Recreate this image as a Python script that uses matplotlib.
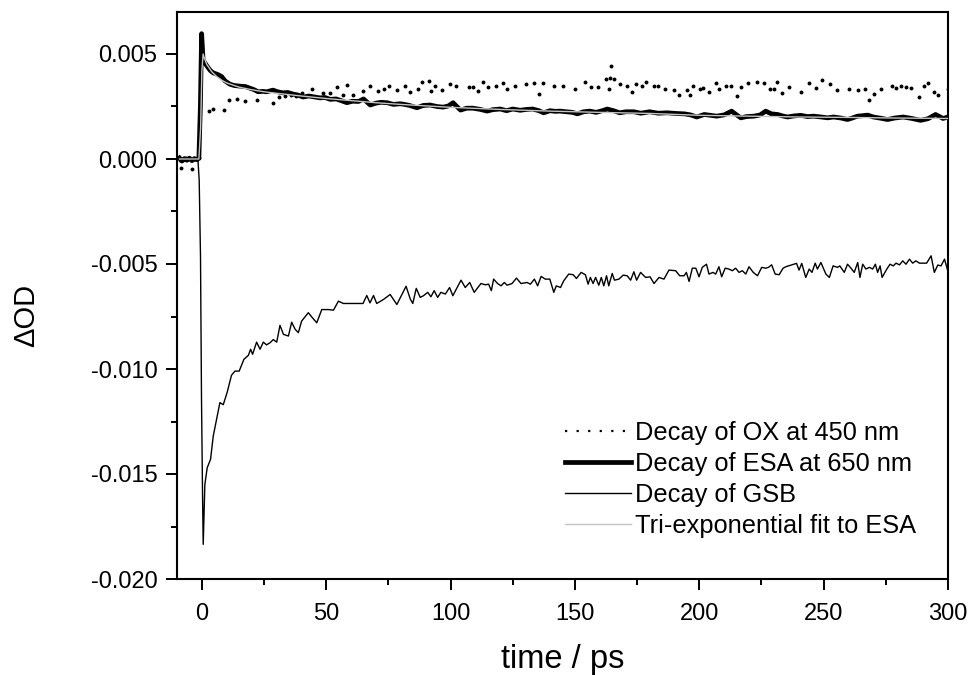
import numpy as np
import matplotlib
matplotlib.use('Agg')
import matplotlib.pyplot as plt
from matplotlib.lines import Line2D
from matplotlib.ticker import MultipleLocator, FormatStrFormatter

plt.rcParams['font.family'] = ['Liberation Sans', 'DejaVu Sans']
plt.rcParams['axes.unicode_minus'] = False

# values, delta OD in units of 1e-3
# oxidised species at 450 nm (dotted)
ox_t = [-8.9, -8.2, -6.5, -4.1, -2.5, -1.0,
        2.9, 4.6, 8.9, 11.0, 14.0, 17.3, 22.0, 28.7, 31.0, 33.5, 36.0, 38.0, 40.1, 44.2,
        48.9, 51.5, 54.2, 56.9, 58.3, 60.7, 64.7, 67.4, 71.0, 73.3, 75.3, 78.4,
        81.8, 83.8, 87.1, 88.5, 91.2, 92.1, 93.6, 96.5, 99.9, 102.3,
        107.3, 109.0, 111.0, 113.0, 114.9, 118.3, 121.1, 122.7, 125.8, 130.5,
        133.4, 135.4, 137.2, 141.5, 145.3, 150.2, 154.2, 156.3, 159.2, 162.6,
        163.6, 164.0, 164.6, 165.7, 168.3, 171.0, 173.0, 174.7, 177.1, 178.7,
        181.8, 183.4, 186.2, 189.8, 191.8, 194.9, 196.3, 197.5, 200.2, 201.5,
        203.9, 206.6, 207.9,
        210.6, 212.9, 215.0, 216.7, 219.4, 223.1, 226.1, 228.5, 230.1, 231.4,
        233.2, 236.1, 240.8, 244.2, 246.9, 249.3, 252.6, 255.3, 260.0, 263.9,
        266.6, 268.3, 270.4, 273.1, 277.5, 279.1, 281.1, 283.1, 285.1, 288.5,
        290.2, 292.1, 294.5, 296.1, 299.9]
ox_v = [-0.05, -0.41, 0.05, -0.49, 0.0, 0.05,
        2.28, 2.36, 2.31, 2.79, 2.88, 2.76, 2.82, 2.68, 2.95, 3.0, 3.05, 2.98, 3.12, 3.31,
        3.15, 3.12, 3.42, 3.07, 3.52, 3.07, 3.23, 3.47, 3.23, 3.31, 3.47, 3.27,
        3.50, 3.18, 3.31, 3.66, 3.71, 3.23, 3.47, 3.30, 3.55, 3.50,
        3.44, 3.44, 3.23, 3.67, 3.44, 3.50, 3.63, 3.34, 3.50, 3.55,
        3.63, 3.10, 3.63, 3.50, 3.50, 3.31, 3.66, 3.42, 3.42, 3.79,
        3.31, 3.86, 4.42, 3.79, 3.55, 3.47, 3.20, 3.55, 3.47, 3.66,
        3.50, 3.50, 3.34, 3.27, 3.03, 3.27, 3.03, 3.50, 3.34, 3.37,
        3.18, 3.60, 3.31,
        3.50, 3.50, 2.99, 3.42, 3.63, 3.66, 3.63, 3.31, 3.31, 3.67,
        3.15, 3.42, 3.20, 3.60, 3.36, 3.74, 3.55, 3.28, 3.31, 3.27,
        3.31, 2.80, 3.10, 3.31, 3.47, 3.36, 3.47, 3.42, 3.36, 2.96,
        3.47, 3.63, 3.20, 3.07, 3.31]

# excited state absorption at 650 nm (thick)
esa_t = [-9, -8, -7, -6, -5, -4, -3, -2, -1.2, -0.6, -0.1, 0.5, 1.2, 2.5, 3.5, 4.6,
         6.5, 8.0, 9.3, 11.3, 13, 15.3, 17.5, 19.3, 21, 22.6, 24.5, 26, 28.6, 30.5,
         32.6, 34.5, 36.7, 38.5, 40.7, 43, 45, 47.5, 49.5, 51.6, 54, 56, 58.3, 60.5,
         63, 65, 67.7, 70, 72, 74.5, 77, 79.7, 81, 83.5, 86.5, 89, 91.8, 94.5, 97, 99,
         101, 102.5, 104, 106.5, 109, 112, 114.7, 117, 120, 122.5, 125, 128, 130.5,
         133, 135.5, 137.4, 140, 142, 144, 146.5, 149, 151, 153.5, 156, 158.5, 161,
         163, 165.5, 168, 170.5, 173.7, 176.5, 180, 183.5, 187, 190.5, 194, 196.5,
         199, 202, 204, 207, 210, 213, 215, 216.7, 219, 222, 224.5, 226.7, 229,
         231.5, 233.5, 235.5, 238, 240.8, 243.5, 246, 249, 251.6, 254, 257, 259.6,
         261.5, 263.6, 265.5, 267.7, 270, 273, 275.7, 278.5, 282, 285.5, 289, 292,
         295, 298, 300]
esa_v = [0.05, -0.10, 0.02, -0.06, 0.04, -0.08, 0.02, -0.04, 0.05, 2.5, 5.97, 4.7,
         4.58, 4.35, 4.2, 4.10, 4.02, 3.92, 3.72, 3.56, 3.5, 3.47, 3.45, 3.37, 3.3,
         3.2, 3.22, 3.2, 3.28, 3.2, 3.15, 3.17, 3.09, 3.05, 2.95, 3.0, 2.96, 2.91,
         2.93, 2.84, 2.86, 2.78, 2.68, 2.75, 2.74, 2.86, 2.57, 2.66, 2.7, 2.68, 2.6,
         2.63, 2.61, 2.55, 2.44, 2.55, 2.57, 2.5, 2.47, 2.52, 2.68, 2.5, 2.33, 2.42,
         2.42, 2.36, 2.28, 2.35, 2.38, 2.3, 2.38, 2.32, 2.36, 2.38, 2.3, 2.2, 2.3,
         2.27, 2.28, 2.25, 2.22, 2.15, 2.25, 2.28, 2.22, 2.3, 2.38, 2.3, 2.2, 2.25,
         2.25, 2.18, 2.25, 2.18, 2.2, 2.17, 2.15, 2.1, 2.0, 2.12, 2.09, 2.04, 2.1,
         2.28, 2.1, 1.96, 2.02, 2.04, 2.1, 2.28, 2.15, 2.12, 2.05, 2.0, 2.05, 2.08,
         2.02, 2.04, 2.0, 1.96, 2.0, 1.95, 1.88, 1.95, 2.04, 2.06, 2.09, 2.0, 1.94,
         1.88, 1.95, 2.0, 1.93, 1.84, 1.92, 2.12, 1.93, 2.0]

# ground state bleach (thin)
gsb_t = [-9, -5, -1.6, -1.08, -0.55, -0.15, 0.27, 0.54, 1.2, 2.15, 3.5, 4.56, 5.9,
         7.25, 8.6, 10.2, 11.9, 13.3, 15.0, 16.9, 18.7, 19.6, 20.4, 22.0, 23.4, 24.7,
         26.0, 27.4, 28.7, 30.1, 31.4, 32.8, 34.8, 36.1, 37.5, 38.8, 40.1, 42.8, 44.1,
         46.2, 48.2, 50.9, 52.9, 54.9, 56.9, 60.3, 64.8, 66.3, 67.6, 69.0, 70.3, 73.0,
         75.7, 78.4, 82.1,
         83.8, 84.8, 86.2, 87.8, 89.1, 90.8, 92.1, 93.4, 94.8, 96.1, 97.9, 99.6, 100.9,
         104.2, 105.9, 107.7, 109.5, 112.2, 114.0, 115.3, 116.4, 117.3, 118.9, 120.3,
         121.6, 122.7, 124.7, 126.5, 128.3, 130.7, 132.1, 133.7, 135.0, 136.4, 138.1,
         139.9, 141.5, 142.5, 144.2, 145.5, 147.5, 149.3, 150.6, 152.5, 154.2, 155.3,
         156.2, 157.3, 158.3, 159.6, 160.6, 161.6, 162.7, 163.6, 165.0, 165.9, 167.7,
         169.4, 171.0, 172.4, 173.7, 174.8, 176.4, 178.4, 180.2, 181.8, 183.8, 185.8,
         187.8,
         190.5, 192.1, 193.9, 194.8, 195.9, 197.2, 198.6, 199.9, 201.2, 202.9, 203.9,
         205.5, 206.6, 207.9, 209.0, 210.4, 211.9, 213.3, 214.6, 216.0, 217.3, 218.7,
         220.0, 221.7, 223.4, 225.1, 226.7, 227.8, 229.1, 230.5, 232.1, 233.7, 234.8,
         237.2, 239.1, 240.1, 241.2, 242.8, 244.2, 245.3, 246.6, 247.5, 248.9, 250.9,
         252.3, 253.8, 255.6, 256.5, 258.3, 259.6, 261.0, 262.3, 263.7, 264.6, 265.7,
         267.0, 268.4, 269.7, 270.8, 271.7, 272.7, 273.5, 275.4, 276.7, 278.0, 279.1,
         280.5, 281.8, 283.1, 284.5, 285.8, 287.1, 288.5, 291.4, 293.2, 294.5, 295.9,
         297.2, 298.6, 299.9, 301.2]
gsb_v = [0.0, 0.0, 0.0, -1.0, -4.64, -11.4, -16.0, -18.35, -15.5, -14.7, -14.3, -13.2,
         -12.4, -11.6, -11.7, -11.1, -10.3, -10.1, -10.1, -9.54, -9.35, -9.06, -9.30,
         -8.72, -9.06, -8.72, -8.85, -8.75, -8.6, -8.72, -7.92, -8.35, -8.43, -7.77,
         -8.11, -8.27, -7.72, -7.32, -7.51, -7.80, -7.17, -7.17, -7.20, -6.77, -6.88,
         -6.88, -6.88, -6.50, -6.85, -6.50, -6.88, -6.69, -6.45, -6.93, -6.06,
         -6.67, -6.88, -6.16, -6.59, -6.51, -6.35, -6.56, -6.27, -6.59, -6.35, -6.43,
         -6.12, -6.51, -5.77, -6.12, -5.88, -6.35, -5.93, -5.99, -5.96, -6.27, -5.72,
         -5.93, -6.04, -5.88, -6.01, -5.93, -5.67, -5.93, -5.88, -5.96, -5.72, -6.04,
         -5.59, -5.72, -5.72, -6.35, -6.04, -6.12, -5.80, -5.48, -5.51, -5.69, -5.40,
         -5.51, -5.96, -5.64, -5.93, -5.64, -6.01, -5.64, -6.04, -5.56, -6.04, -5.45,
         -5.77, -5.72, -5.53, -5.56, -5.77, -5.37, -5.77, -5.40, -5.64, -5.61, -5.93,
         -5.64, -5.72, -5.29,
         -5.32, -5.56, -5.56, -5.40, -5.83, -5.20, -5.20, -5.61, -5.16, -5.01, -5.48,
         -5.40, -5.48, -5.13, -5.61, -5.20, -5.24, -5.32, -5.20, -5.40, -5.32, -5.48,
         -5.13, -5.40, -5.56, -5.16, -5.20, -5.16, -5.04, -5.48, -5.51, -5.20, -5.13,
         -5.04, -4.97, -5.29, -4.97, -5.64, -5.24, -5.40, -4.96, -5.24, -4.93, -5.48,
         -5.64, -5.09, -5.16, -5.09, -5.40, -5.01, -5.20, -5.40, -4.93, -5.64, -5.01,
         -5.24, -5.16, -5.24, -5.01, -5.40, -5.09, -5.64, -5.24, -5.01, -5.09, -4.96,
         -5.04, -4.85, -5.01, -4.77, -4.96, -4.85, -4.96, -4.96, -4.61, -5.40, -5.05,
         -5.09, -4.77, -5.32, -4.77]

# tri-exponential fit to the ESA trace (light grey)
fit_t = [-9, -1.2, -0.5, 0, 0.5, 1, 2, 4, 6, 8, 10, 15, 20, 25, 30, 40, 50, 60, 70,
         80, 90, 100, 120, 140, 160, 180, 200, 220, 240, 260, 280, 300]
fit_v = [0.0, 0.0, 1.5, 4.2, 5.0, 4.8, 4.5, 4.15, 3.92, 3.75, 3.62, 3.42, 3.3, 3.2,
         3.13, 3.0, 2.88, 2.78, 2.68, 2.6, 2.53, 2.46, 2.36, 2.28, 2.22, 2.17, 2.08,
         2.04, 2.0, 1.98, 1.95, 1.93]

scale = 1e-3

fig = plt.figure(figsize=(9.71, 6.75), dpi=100)
ax = fig.add_axes([177 / 971, 96 / 675, 771 / 971, 567 / 675])

ax.plot(ox_t, np.array(ox_v) * scale, linestyle='none', marker='o', ms=1.8,
        color='black', zorder=2)
ax.plot(esa_t, np.array(esa_v) * scale, color='black', lw=3.4,
        solid_joinstyle='round', zorder=3)
ax.plot(gsb_t, np.array(gsb_v) * scale, color='black', lw=1.0, zorder=4)
ax.plot(fit_t, np.array(fit_v) * scale, color='#c4c4c4', lw=1.0, zorder=5)

ax.set_xlim(-10, 300)
ax.set_ylim(-0.020, 0.007)

ax.xaxis.set_major_locator(MultipleLocator(50))
ax.xaxis.set_minor_locator(MultipleLocator(25))
ax.yaxis.set_major_locator(MultipleLocator(0.005))
ax.yaxis.set_minor_locator(MultipleLocator(0.0025))
ax.yaxis.set_major_formatter(FormatStrFormatter('%.3f'))

ax.tick_params(which='both', direction='out', width=1.4, labelsize=17,
               top=False, right=False)
ax.tick_params(which='major', length=8, pad=6)
ax.tick_params(axis='x', which='major', pad=9)
ax.tick_params(which='minor', length=4.5)
for s in ax.spines.values():
    s.set_linewidth(1.5)

ax.set_xlabel('time / ps', fontsize=23.5, labelpad=14)
ax.set_ylabel('ΔOD', fontsize=21)
ax.yaxis.set_label_coords(-0.178, 0.465)

handles = [
    Line2D([], [], color='black', lw=1.6, linestyle=(0, (1, 4.2))),
    Line2D([], [], color='black', lw=3.4),
    Line2D([], [], color='black', lw=1.0),
    Line2D([], [], color='#c4c4c4', lw=1.0),
]
labels = ['Decay of OX at 450 nm', 'Decay of ESA at 650 nm', 'Decay of GSB',
          'Tri-exponential fit to ESA']
ax.legend(handles, labels, loc='upper left', bbox_to_anchor=(0.503, 0.279),
          frameon=False, fontsize=18.3, handlelength=2.6, handletextpad=0.15,
          labelspacing=0.28, borderpad=0, borderaxespad=0)

fig.savefig('out.png', dpi=100)
